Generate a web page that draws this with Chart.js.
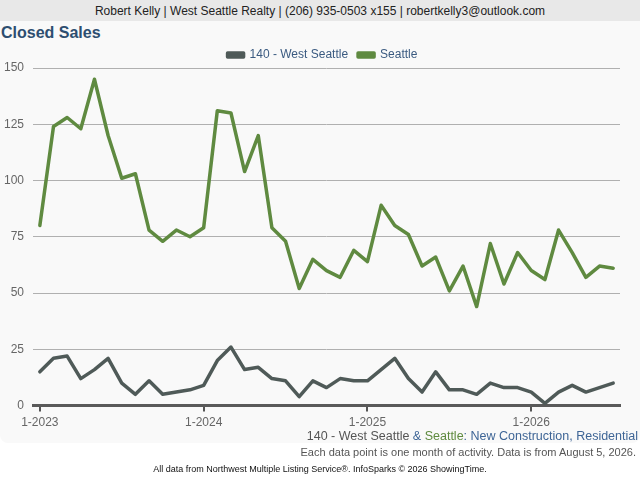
<!DOCTYPE html>
<html lang="en">
<head>
<meta charset="utf-8">
<title>Closed Sales</title>
<script src="https://cdn.jsdelivr.net/npm/chart.js@4"></script>
<style>
  body { margin: 0; width: 640px; height: 480px; background: #fff; font-family: "Liberation Sans", Arial, sans-serif; position: relative; overflow: hidden; }
  #header { position: absolute; left: 0; top: 0; width: 640px; height: 21px; background: #e8e8e8; color: #222; font-size: 12px; line-height: 22px; text-align: center; }
  #panel { position: absolute; left: 0; top: 21px; width: 640px; height: 422px; background: #f9f9f9; border-radius: 0 0 8px 8px; }
  #title { position: absolute; left: 1px; top: 24px; font-size: 16px; font-weight: bold; color: #2d4e70; }
  #wrap { position: absolute; left: -5px; top: 34px; width: 645px; height: 400px; }
  #sub { position: absolute; right: 2px; top: 429px; font-size: 12.5px; color: #555; white-space: nowrap; }
  #sub .b { color: #3e6596; }
  #sub .g { color: #5e8a3e; }
  #note { position: absolute; right: 4px; top: 446px; font-size: 11px; color: #555; white-space: nowrap; }
  #src { position: absolute; left: 0; width: 640px; top: 464px; font-size: 9px; color: #111; text-align: center; }
</style>
</head>
<body>
<div id="header">Robert Kelly | West Seattle Realty | (206) 935-0503 x155 | robertkelly3@outlook.com</div>
<div id="panel"></div>
<div id="title">Closed Sales</div>
<div id="wrap"><canvas id="myChart"></canvas></div>
<div id="sub">140 - West Seattle <span class="b">&amp;</span> <span class="g">Seattle</span><span class="b">: New Construction, Residential</span></div>
<div id="note">Each data point is one month of activity. Data is from August 5, 2026.</div>
<div id="src">All data from Northwest Multiple Listing Service®. InfoSparks © 2026 ShowingTime.</div>
<script>
// months Jan 2023 .. Jul 2026
var months = [];
for (var yr = 2023; yr <= 2026; yr++) {
    for (var m = 1; m <= 12; m++) {
        if (yr === 2026 && m > 7) break;
        months.push(m + '-' + yr);
    }
}

var westSeattle = [15, 21, 22, 12, 16, 21, 10, 5, 11, 5, 6, 7, 9,
                   20, 26, 16, 17, 12, 11, 4, 11, 8, 12, 11, 11,
                   16, 21, 12, 6, 15, 7, 7, 5, 10, 8, 8, 6,
                   1, 6, 9, 6, 8, 10];
var seattle = [80, 124, 128, 123, 145, 120, 101, 103, 78, 73, 78, 75, 79,
               131, 130, 104, 120, 79, 73, 52, 65, 60, 57, 69, 64,
               89, 80, 76, 62, 66, 51, 62, 44, 72, 54, 68, 60,
               56, 78, 68, 57, 62, 61];

var yearTicks = [0, 12, 24, 36];

function pts(arr) {
    return arr.map(function (v, i) { return { x: i, y: v }; });
}

// trims a few px off the legend box so the plot starts right under it,
// and nudges the legend right to sit over the middle of the page
var legendTweak = {
    id: 'legendTweak',
    beforeInit: function (chart) {
        var lg = chart.legend;
        if (!lg) return;
        var fit = lg.fit;
        lg.fit = function () {
            fit.call(this);
            this.height -= 3;
        };
    },
    afterLayout: function (chart) {
        if (!chart.legend) return;
        chart.legend.left += 15;
        chart.legend.right += 15;
    }
};

var ctx = document.getElementById('myChart').getContext('2d');
var myChart = new Chart(ctx, {
    type: 'line',
    data: {
        datasets: [{
            label: '140 - West Seattle',
            data: pts(westSeattle),
            borderColor: '#4f5a58',
            backgroundColor: '#4f5a58',
            borderWidth: 3.5,
            pointRadius: 0,
            tension: 0,
            borderJoinStyle: 'round',
            borderCapStyle: 'round'
        }, {
            label: 'Seattle',
            data: pts(seattle),
            borderColor: '#5f8a40',
            backgroundColor: '#5f8a40',
            borderWidth: 3.5,
            pointRadius: 0,
            tension: 0,
            borderJoinStyle: 'round',
            borderCapStyle: 'round'
        }]
    },
    plugins: [legendTweak],
    options: {
        responsive: true,
        maintainAspectRatio: false,
        animation: false,
        layout: { padding: { left: 0, right: 20, top: 5, bottom: 0 } },
        plugins: {
            legend: {
                position: 'top',
                labels: {
                    boxWidth: 16,
                    boxHeight: 4,
                    color: '#3a5a80',
                    font: { family: 'Liberation Sans', size: 12 },
                    padding: 10
                }
            },
            tooltip: { enabled: false }
        },
        scales: {
            x: {
                type: 'linear',
                min: -0.5,
                max: months.length - 0.5,
                afterBuildTicks: function (axis) {
                    axis.ticks = yearTicks.map(function (v) { return { value: v }; });
                },
                ticks: {
                    autoSkip: false,
                    maxRotation: 0,
                    color: '#666',
                    font: { family: 'Liberation Sans', size: 12 },
                    padding: 4,
                    callback: function (v) { return months[v]; }
                },
                grid: {
                    drawOnChartArea: false,
                    color: '#555',
                    lineWidth: 2,
                    tickLength: 6
                },
                border: { color: '#5a5a5a', width: 3 }
            },
            y: {
                min: 0,
                max: 150,
                ticks: {
                    stepSize: 25,
                    color: '#666',
                    font: { family: 'Liberation Sans', size: 12 },
                    padding: 9
                },
                grid: {
                    color: '#b0b0b0',
                    lineWidth: 1,
                    drawTicks: false
                },
                border: { display: false }
            }
        }
    }
});
</script>
</body>
</html>
